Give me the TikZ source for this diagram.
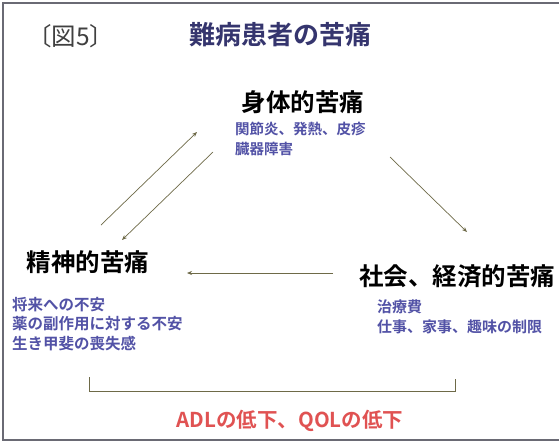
\documentclass[tikz,border=0pt]{standalone}
\usepackage{fontspec}
\newfontfamily\jp{Noto Sans CJK JP}
\newfontfamily\jpb{Noto Sans CJK JP Bold}
\usetikzlibrary{arrows.meta}
\definecolor{titlecol}{HTML}{35356E}
\definecolor{subcol}{HTML}{5252A6}
\definecolor{adlcol}{HTML}{E05252}
\definecolor{arrcol}{HTML}{6E6A48}
\definecolor{framecol}{HTML}{6A6A74}
\tikzset{
  heading/.style={inner sep=0pt, font=\jpb\fontsize{24.5}{28}\selectfont, text=black},
  subtext/.style={inner sep=0pt, anchor=north west, align=left, font=\jpb\fontsize{15}{19.5}\selectfont, text=subcol},
  arr/.style={draw=arrcol, line width=0.7pt, -{Stealth[length=5pt,width=4pt]}},
}
\begin{document}
\begin{tikzpicture}[x=1pt,y=-1pt]
\useasboundingbox[fill=white] (0,0) rectangle (559,442);
% frame
\draw[framecol, line width=1.6pt] (559,3) -- (3,3) -- (3,440) -- (559,440);
% titles
\node[inner sep=0pt, anchor=west, font=\jp\fontsize{24.5}{28}\selectfont, text=black!75] (fig) at (27,36) {〔図5〕};
\node[inner sep=0pt, font=\jpb\fontsize{26}{30}\selectfont, text=titlecol] (title) at (280,35) {難病患者の苦痛};
% main nodes
\node[heading] (body) at (303,102) {身体的苦痛};
\node[subtext, font=\jpb\fontsize{14.5}{19.5}\selectfont] (bodysub) at (235,122) {関節炎、発熱、皮疹\\臓器障害};
\node[heading] (mind) at (88,262) {精神的苦痛};
\node[subtext, font=\jpb\fontsize{15.5}{19.5}\selectfont] (mindsub) at (12,297) {将来への不安\\薬の副作用に対する不安\\生き甲斐の喪失感};
\node[heading] (social) at (457,276) {社会、経済的苦痛};
\node[subtext] (socsub) at (377,300) {治療費\\仕事、家事、趣味の制限};
% arrows
\coordinate (a1s) at (101,225);
\coordinate (a1e) at (197,132);
\coordinate (a2s) at (213,152);
\coordinate (a2e) at (122,240);
\coordinate (a3s) at (390,157);
\coordinate (a3e) at (467,232);
\coordinate (a4s) at (333,273);
\coordinate (a4e) at (187,273);
\draw[arr] (a1s) -- (a1e);
\draw[arr] (a2s) -- (a2e);
\draw[arr] (a3s) -- (a3e);
\draw[arr] (a4s) -- (a4e);
% bracket
\coordinate (bl) at (89,377);
\coordinate (br) at (455,379);
\draw[arrcol, line width=0.8pt] (bl) -- (89,391) -- (455,391) -- (br);
\node[inner sep=0pt, font=\jpb\fontsize{20.5}{24}\selectfont, text=adlcol] (adl) at (290,421) {ADLの低下、QOLの低下};
\end{tikzpicture}
\end{document}
